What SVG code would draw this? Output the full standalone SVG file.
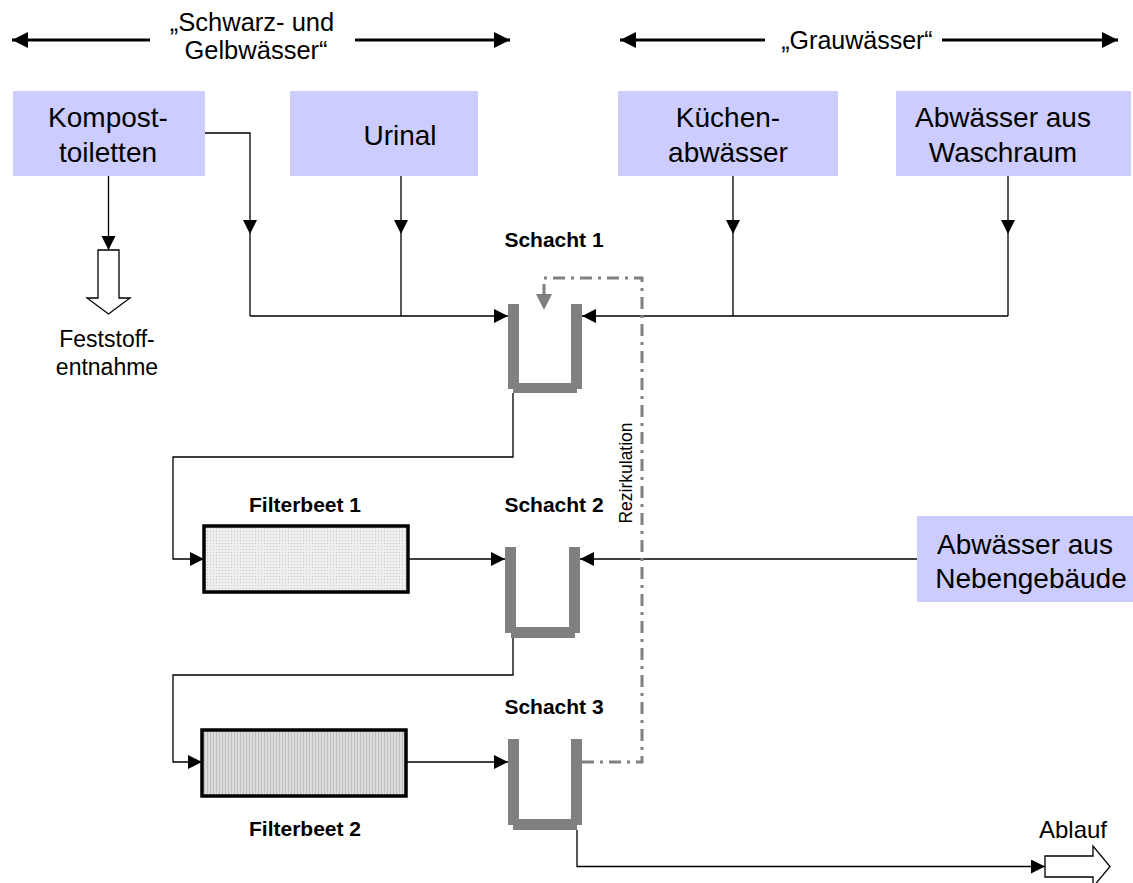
<svg xmlns="http://www.w3.org/2000/svg" width="1133" height="883" viewBox="0 0 1133 883">
<defs>
<style>
.box{fill:#ccccff}
.bt{font-family:"Liberation Sans",Arial,sans-serif;font-size:28px;fill:#000;text-anchor:middle}
.lt{font-family:"Liberation Sans",Arial,sans-serif;font-size:24px;fill:#000;text-anchor:middle}
.bold{font-family:"Liberation Sans",Arial,sans-serif;font-size:21px;font-weight:bold;fill:#000;text-anchor:middle}
.ln{stroke:#000;stroke-width:1.3;fill:none}
.big{stroke:#000;stroke-width:3;fill:none}
.wall{fill:#808080}
.rez{stroke:#808080;stroke-width:3;fill:none;stroke-dasharray:12,6,3,6}
.filt{stroke:#000;stroke-width:3.5}
</style>
<marker id="ah" markerUnits="userSpaceOnUse" markerWidth="16" markerHeight="16" refX="14" refY="7" orient="auto">
<path d="M0,0 L14,7 L0,14 z" fill="#000"/>
</marker>
<marker id="ahb" markerUnits="userSpaceOnUse" markerWidth="18" markerHeight="18" refX="16" refY="8" orient="auto">
<path d="M0,0 L16,8 L0,16 z" fill="#000"/>
</marker>
<pattern id="dots" width="3" height="3" patternUnits="userSpaceOnUse">
<rect width="3" height="3" fill="#eeeeee"/>
<rect width="1" height="1" fill="#c8c8c8"/>
</pattern>
<pattern id="vlines" width="3" height="3" patternUnits="userSpaceOnUse">
<rect width="3" height="3" fill="#dcdcdc"/>
<rect width="1" height="3" fill="#bdbdbd"/>
</pattern>
</defs>
<rect width="1133" height="883" fill="#fff"/>

<g id="label-schwarz">
<line x1="150" y1="40" x2="12" y2="40" class="big" marker-end="url(#ahb)"/>
<line x1="355" y1="40" x2="510" y2="40" class="big" marker-end="url(#ahb)"/>
<text x="252" y="31" class="lt" style="font-size:25.5px">„Schwarz- und</text>
<text x="256" y="59" class="lt" style="font-size:25.5px">Gelbwässer“</text>
</g>
<g id="label-grau">
<line x1="765" y1="40" x2="620" y2="40" class="big" marker-end="url(#ahb)"/>
<line x1="942" y1="40" x2="1118" y2="40" class="big" marker-end="url(#ahb)"/>
<text x="857" y="49" class="lt" style="font-size:25px">„Grauwässer“</text>
</g>

<g id="kompost">
<rect x="13" y="91" width="192" height="85" class="box"/>
<text x="108" y="127" class="bt">Kompost-</text>
<text x="108" y="162" class="bt">toiletten</text>
</g>
<g id="urinal">
<rect x="290" y="91" width="188" height="85" class="box"/>
<text x="400" y="145" class="bt">Urinal</text>
</g>
<g id="kuechen">
<rect x="618" y="91" width="220" height="85" class="box"/>
<text x="728" y="127" class="bt">Küchen-</text>
<text x="728" y="162" class="bt">abwässer</text>
</g>
<g id="waschraum">
<rect x="896" y="91" width="235" height="85" class="box"/>
<text x="1003" y="127" class="bt">Abwässer aus</text>
<text x="1003" y="162" class="bt">Waschraum</text>
</g>
<g id="nebengebaeude">
<rect x="917" y="516" width="216" height="86" class="box"/>
<text x="1025" y="554" class="bt">Abwässer aus</text>
<text x="1031" y="588" class="bt">Nebengebäude</text>
</g>

<g id="feststoff">
<polygon points="98,250 119,250 119,298 130,298 108.5,314 87,298 98,298" fill="#fff" stroke="#000" stroke-width="1.3"/>
<text x="107" y="347" class="lt" style="font-size:23px">Feststoff-</text>
<text x="107" y="375" class="lt" style="font-size:23px">entnahme</text>
</g>

<g id="schacht1">
<text x="554" y="247" class="bold">Schacht 1</text>
<rect x="508" y="304" width="11" height="85" class="wall"/>
<rect x="571" y="304" width="11" height="85" class="wall"/>
<rect x="513" y="383" width="64" height="10" class="wall"/>
</g>
<g id="schacht2">
<text x="554" y="512" class="bold">Schacht 2</text>
<rect x="505" y="547" width="11" height="86" class="wall"/>
<rect x="569" y="547" width="11" height="86" class="wall"/>
<rect x="511" y="627" width="64" height="11" class="wall"/>
</g>
<g id="schacht3">
<text x="554" y="714" class="bold">Schacht 3</text>
<rect x="508" y="739" width="11" height="86" class="wall"/>
<rect x="571" y="739" width="11" height="86" class="wall"/>
<rect x="513" y="819" width="64" height="11" class="wall"/>
</g>

<g id="filterbeet1">
<text x="305" y="512" class="bold">Filterbeet 1</text>
<rect x="204" y="526" width="204" height="66" fill="url(#dots)" class="filt"/>
</g>
<g id="filterbeet2">
<rect x="202" y="730" width="204" height="66" fill="url(#vlines)" class="filt"/>
<text x="305" y="836" class="bold">Filterbeet 2</text>
</g>

<g id="ablauf">
<text x="1073" y="838" class="lt">Ablauf</text>
<polygon points="1045,856 1093,856 1093,846 1110,866.5 1093,887 1093,877 1045,877" fill="#fff" stroke="#000" stroke-width="1.3"/>
</g>

<g id="connectors">
<line x1="108.5" y1="176" x2="108.5" y2="250" class="ln" marker-end="url(#ah)"/>
<polyline points="205,133 250,133 250,234" class="ln" marker-end="url(#ah)"/>
<line x1="250" y1="234" x2="250" y2="316" class="ln"/>
<line x1="401" y1="176" x2="401" y2="234" class="ln" marker-end="url(#ah)"/>
<line x1="401" y1="234" x2="401" y2="316" class="ln"/>
<line x1="250" y1="316" x2="508" y2="316" class="ln" marker-end="url(#ah)"/>
<line x1="733" y1="176" x2="733" y2="234" class="ln" marker-end="url(#ah)"/>
<line x1="733" y1="234" x2="733" y2="316" class="ln"/>
<line x1="1008" y1="176" x2="1008" y2="234" class="ln" marker-end="url(#ah)"/>
<line x1="1008" y1="234" x2="1008" y2="316" class="ln"/>
<line x1="1008" y1="316" x2="582" y2="316" class="ln" marker-end="url(#ah)"/>
<polyline points="513,393 513,457 173,457 173,559 204,559" class="ln" marker-end="url(#ah)"/>
<line x1="408" y1="559" x2="505" y2="559" class="ln" marker-end="url(#ah)"/>
<line x1="917" y1="559" x2="580" y2="559" class="ln" marker-end="url(#ah)"/>
<polyline points="513,638 513,675 173,675 173,762 202,762" class="ln" marker-end="url(#ah)"/>
<line x1="406" y1="762" x2="508" y2="762" class="ln" marker-end="url(#ah)"/>
<polyline points="577,830 577,866.5 1045,866.5" class="ln" marker-end="url(#ah)"/>
<polyline points="582,762 642,762 642,278 544,278 544,294" class="rez"/>
<polygon points="536,294 552,294 544,310" fill="#808080"/>
<text transform="translate(632,473) rotate(-90)" class="lt" style="font-size:17.5px">Rezirkulation</text>
</g>
</svg>
